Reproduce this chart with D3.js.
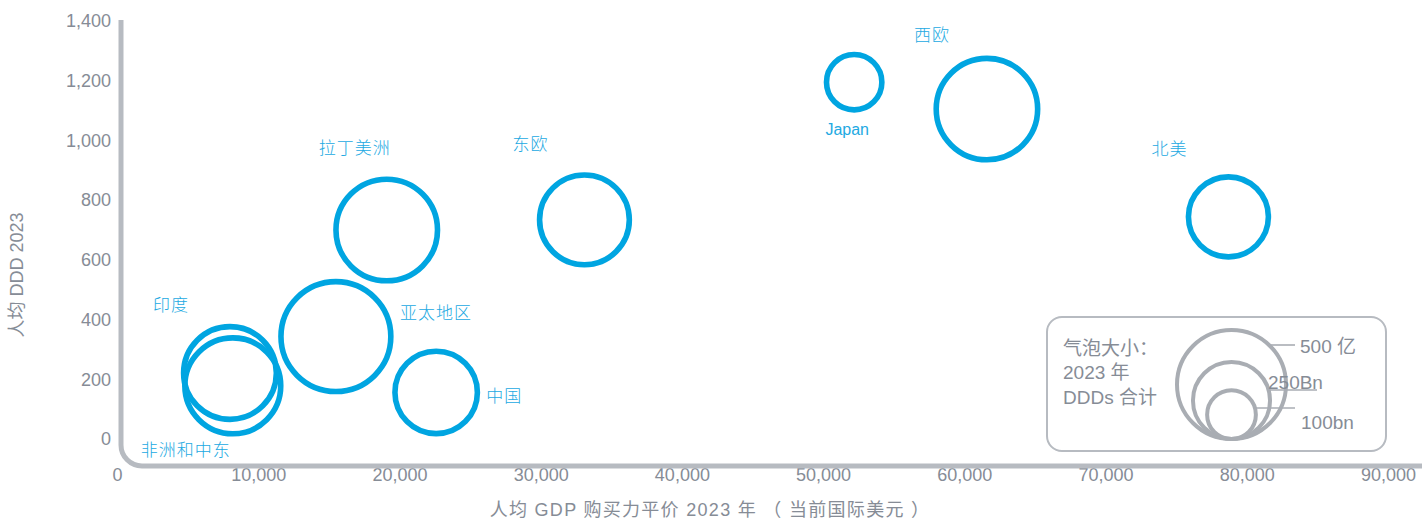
<!DOCTYPE html>
<html>
<head>
<meta charset="utf-8">
<script src="https://cdn.jsdelivr.net/npm/d3@7"></script>
<style>
  html, body { margin: 0; padding: 0; background: #ffffff; }
  svg { display: block; }
</style>
</head>
<body>
<svg id="chart" width="1422" height="519"></svg>
<script>
// Regional antibiotic use: GDP per capita (PPP, 2023), DDD per capita (2023), total DDDs (bn)
const regions      = ["西欧", "Japan", "北美", "东欧", "拉丁美洲", "亚太地区", "中国", "印度", "非洲和中东"];
const gdpPerCapita = [61600, 52200, 78700, 33100, 19100, 15500, 22600, 8000, 8200];
const dddPerCapita = [1105, 1195, 744, 734, 700, 343, 156, 221, 178];
const totalDDDs    = [433, 129, 269, 339, 434, 508, 286, 362, 387];

const xTicks = [0, 10000, 20000, 30000, 40000, 50000, 60000, 70000, 80000, 90000];
const yTicks = [0, 200, 400, 600, 800, 1000, 1200, 1400];

const legendValues = [500, 250, 100];
const legendLabels = ["500 亿", "250Bn", "100bn"];
const legendTitle  = ["气泡大小：", "2023 年", "DDDs 合计"];

const xTitle = "人均 GDP 购买力平价 2023 年 （ 当前国际美元 ）";
const yTitle = "人均 DDD 2023";

// label placement relative to each bubble centre (px)
const labelOffsets = [[-55, -74], [-7, 47], [-59, -68], [-54, -76], [-32, -82], [100, -24], [68, 3], [-59, -68], [-47, 64]];

const W = 1422, H = 519;
const axisLeft = 121, axisBottom = 466;
const BLUE = "#00a5e1", LABEL_BLUE = "#22a9e2";
const GREY_TEXT = "#868c96", AXIS_GREY = "#b7bbc1", LEGEND_GREY = "#a9adb3";
const LATIN = "'Liberation Sans', Arial, 'Noto Sans CJK SC', sans-serif";
const CJK = "'Noto Sans CJK SC', 'Liberation Sans', sans-serif";

const svg = d3.select("#chart");

const x = d3.scaleLinear().domain([0, 90000]).range([117, 1388]);
const y = d3.scaleLinear().domain([0, 1400]).range([439, 21]);
const r = d3.scaleSqrt().domain([0, 500]).range([0, 54.5]);

// y axis tick labels
const yAxis = svg.append("g")
  .attr("transform", "translate(111,0)")
  .call(d3.axisLeft(y).tickValues(yTicks).tickFormat(d3.format(",")).tickSize(0).tickPadding(0));
yAxis.select(".domain").remove();
yAxis.selectAll("text")
  .attr("fill", GREY_TEXT).style("font-family", LATIN).style("font-size", "18px");

// x axis tick labels (the axis line is drawn over their tops)
const xAxis = svg.append("g")
  .attr("transform", `translate(0,${axisBottom})`)
  .call(d3.axisBottom(x).tickValues(xTicks).tickFormat(d3.format(",")).tickSize(0).tickPadding(2));
xAxis.select(".domain").remove();
xAxis.selectAll("text")
  .attr("fill", GREY_TEXT).style("font-family", LATIN).style("font-size", "18px");

// L-shaped axis line with a rounded corner
const cr = 21;
svg.append("path")
  .attr("d", `M${axisLeft},20 V${axisBottom - cr} A${cr},${cr} 0 0 0 ${axisLeft + cr},${axisBottom} H${W}`)
  .attr("fill", "none")
  .attr("stroke", AXIS_GREY)
  .attr("stroke-width", 5);

// axis titles
svg.append("text")
  .attr("transform", "translate(23,275) rotate(-90)")
  .attr("text-anchor", "middle")
  .attr("fill", GREY_TEXT)
  .style("font-family", LATIN).style("font-size", "18px")
  .text(yTitle);

svg.append("text")
  .attr("x", 710).attr("y", 516)
  .attr("text-anchor", "middle")
  .attr("fill", GREY_TEXT)
  .style("font-family", LATIN).style("font-size", "18px")
  .style("letter-spacing", "1.3px")
  .text(xTitle);

// bubbles
const data = regions.map((name, i) => ({
  name, gdp: gdpPerCapita[i], ddd: dddPerCapita[i], total: totalDDDs[i], off: labelOffsets[i]
}));

svg.append("g").selectAll("circle")
  .data(data).join("circle")
  .attr("cx", d => x(d.gdp))
  .attr("cy", d => y(d.ddd))
  .attr("r", d => r(d.total))
  .attr("fill", "none")
  .attr("stroke", BLUE)
  .attr("stroke-width", 5.6);

svg.append("g").selectAll("text")
  .data(data).join("text")
  .attr("x", d => x(d.gdp) + d.off[0])
  .attr("y", d => y(d.ddd) + d.off[1])
  .attr("dy", "0.36em")
  .attr("text-anchor", "middle")
  .attr("fill", LABEL_BLUE)
  .style("font-family", d => /[A-Za-z]/.test(d.name) ? LATIN : CJK)
  .style("font-weight", d => /[A-Za-z]/.test(d.name) ? 400 : 300)
  .style("font-size", d => /[A-Za-z]/.test(d.name) ? "16px" : "17px")
  .style("letter-spacing", d => /[A-Za-z]/.test(d.name) ? "0px" : "1px")
  .text(d => d.name);

// bubble-size legend
const legend = svg.append("g");
legend.append("rect")
  .attr("x", 1047).attr("y", 317).attr("width", 339).attr("height", 134)
  .attr("rx", 15).attr("ry", 15)
  .attr("fill", "#ffffff")
  .attr("stroke", AXIS_GREY).attr("stroke-width", 2);

legend.append("g").selectAll("text")
  .data(legendTitle).join("text")
  .attr("x", 1063)
  .attr("y", (d, i) => 348 + i * 24.5)
  .attr("dy", "0.36em")
  .attr("fill", GREY_TEXT)
  .style("font-family", LATIN).style("font-size", "19px")
  .text(d => d);

const lcx = 1231.5, lBottom = 439;
legend.append("g").selectAll("circle")
  .data(legendValues).join("circle")
  .attr("cx", lcx)
  .attr("cy", d => lBottom - r(d))
  .attr("r", d => r(d))
  .attr("fill", "none")
  .attr("stroke", LEGEND_GREY)
  .attr("stroke-width", 4);

// leader lines: [line y, line end x, label x, label centre y]
const leaders = [[345, 1295, 1300, 346], [390, 1317, 1268, 382], [408, 1295, 1301, 422]];
legendValues.forEach((v, i) => {
  const [ly, lx2, tx, ty] = leaders[i];
  const rr = r(v), cy = lBottom - rr;
  const edge = lcx + Math.sqrt(Math.max(0, rr * rr - (ly - cy) * (ly - cy)));
  legend.append("line")
    .attr("x1", edge).attr("x2", lx2).attr("y1", ly).attr("y2", ly)
    .attr("stroke", LEGEND_GREY).attr("stroke-width", 1.6);
  legend.append("text")
    .attr("x", tx).attr("y", ty).attr("dy", "0.36em")
    .attr("fill", GREY_TEXT)
    .style("font-family", LATIN).style("font-size", "19px")
    .text(legendLabels[i]);
});
</script>
</body>
</html>
